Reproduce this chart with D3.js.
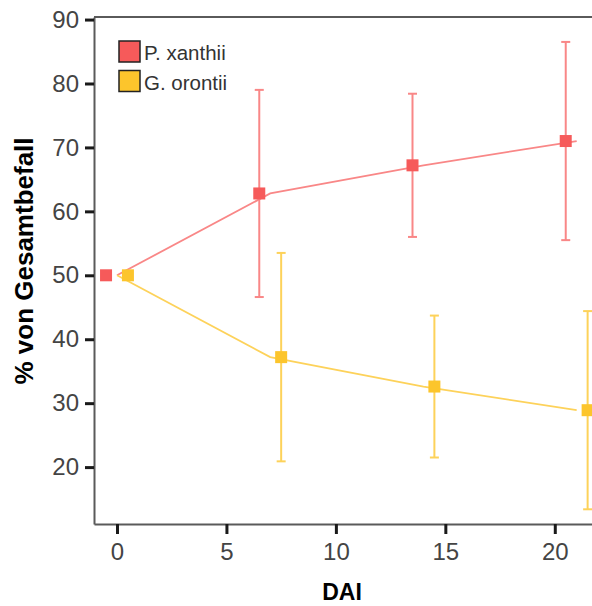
<!DOCTYPE html>
<html>
<head>
<meta charset="utf-8">
<script src="https://cdn.jsdelivr.net/npm/d3@7"></script>
<style>
  html, body { margin: 0; padding: 0; background: #fff; }
  svg { display: block; }
</style>
</head>
<body>
<svg id="chart" width="592" height="606"></svg>
<script>
// Days after inoculation
const days = [0, 7, 14, 21];
// Share of total infection (%) per pathogen, mean and error
const xanthiiMean = [50, 62.8, 67.2, 71.0];
const xanthiiErr  = [0, 16.2, 11.2, 15.5];
const orontiiMean = [50, 37.2, 32.6, 28.9];
const orontiiErr  = [0, 16.3, 11.1, 15.5];
const seriesNames = ["P. xanthii", "G. orontii"];
const xTicks = [0, 5, 10, 15, 20];
const yTicks = [20, 30, 40, 50, 60, 70, 80, 90];

const series = [
  { name: seriesNames[0], mean: xanthiiMean, err: xanthiiErr, shift: -0.5,
    fill: "#f65a5a", line: "#f98787" },
  { name: seriesNames[1], mean: orontiiMean, err: orontiiErr, shift: 0.5,
    fill: "#fcc52c", line: "#fdd25a" }
];

const svg = d3.select("#chart");
const plotL = 94, plotR = 592, plotT = 17, plotB = 524;

const x = d3.scaleLinear().domain([-1.05, 21.7]).range([plotL, plotR]);
const y = d3.scaleLinear().domain([11.1, 90.4]).range([plotB, plotT]);

// top frame line
svg.append("line")
  .attr("x1", plotL).attr("x2", plotR).attr("y1", plotT).attr("y2", plotT)
  .attr("stroke", "#5a5a5a").attr("stroke-width", 2);

// y axis
const gy = svg.append("g").attr("transform", `translate(${plotL},0)`)
  .call(d3.axisLeft(y).tickValues(yTicks).tickSize(9).tickSizeOuter(0).tickPadding(6));
gy.select(".domain").attr("stroke", "#5a5a5a").attr("stroke-width", 2);
gy.selectAll(".tick line").attr("stroke", "#1a1a1a").attr("stroke-width", 3);
gy.selectAll(".tick text").attr("fill", "#444")
  .style("font-family", "Liberation Sans, Arial, sans-serif").style("font-size", "24px");

// x axis
const gx = svg.append("g").attr("transform", `translate(0,${plotB})`)
  .call(d3.axisBottom(x).tickValues(xTicks).tickSize(10).tickSizeOuter(0).tickPadding(9));
gx.select(".domain").attr("stroke", "#5a5a5a").attr("stroke-width", 2);
gx.selectAll(".tick line").attr("stroke", "#1a1a1a").attr("stroke-width", 3);
gx.selectAll(".tick text").attr("fill", "#444")
  .style("font-family", "Liberation Sans, Arial, sans-serif").style("font-size", "24px");

// axis titles
svg.append("text")
  .attr("x", 342).attr("y", 600)
  .attr("text-anchor", "middle")
  .style("font-family", "Liberation Sans, Arial, sans-serif")
  .style("font-size", "23px").style("font-weight", "bold")
  .attr("fill", "#000")
  .text("DAI");

svg.append("text")
  .attr("transform", "translate(33,261) rotate(-90)")
  .attr("text-anchor", "middle")
  .style("font-family", "Liberation Sans, Arial, sans-serif")
  .style("font-size", "26px").style("font-weight", "bold")
  .attr("fill", "#000")
  .text("% von Gesamtbefall");

// connecting lines at the sampling days
const lineGen = d3.line().x(d => x(d[0])).y(d => y(d[1]));
series.forEach(s => {
  svg.append("path")
    .datum(days.map((d, i) => [d, s.mean[i]]))
    .attr("d", lineGen)
    .attr("fill", "none")
    .attr("stroke", s.line)
    .attr("stroke-width", 1.8);
});

// error bars and markers, offset per series
const cap = 4.5, half = 6;
series.forEach(s => {
  const g = svg.append("g");
  const pts = days.map((d, i) => ({ x: d + s.shift, m: s.mean[i], e: s.err[i] }));
  const eb = g.selectAll(".eb").data(pts.filter(p => p.e > 0)).join("g");
  eb.append("line")
    .attr("x1", p => x(p.x)).attr("x2", p => x(p.x))
    .attr("y1", p => y(p.m - p.e)).attr("y2", p => y(p.m + p.e))
    .attr("stroke", s.line).attr("stroke-width", 2);
  [-1, 1].forEach(sign => {
    eb.append("line")
      .attr("x1", p => x(p.x) - cap).attr("x2", p => x(p.x) + cap)
      .attr("y1", p => y(p.m + sign * p.e)).attr("y2", p => y(p.m + sign * p.e))
      .attr("stroke", s.line).attr("stroke-width", 2);
  });
  g.selectAll(".mk").data(pts).join("rect")
    .attr("x", p => x(p.x) - half).attr("y", p => y(p.m) - half)
    .attr("width", half * 2).attr("height", half * 2)
    .attr("fill", s.fill);
});

// legend
const lg = svg.append("g");
series.forEach((s, i) => {
  const row = lg.append("g").attr("transform", `translate(119,${41 + i * 29.5})`);
  row.append("rect").attr("width", 21).attr("height", 21)
    .attr("fill", s.fill).attr("stroke", "#222").attr("stroke-width", 1.5);
  row.append("text").attr("x", 25).attr("y", 19)
    .style("font-family", "Liberation Sans, Arial, sans-serif")
    .style("font-size", "20.5px").attr("fill", "#333")
    .text(s.name);
});
</script>
</body>
</html>
